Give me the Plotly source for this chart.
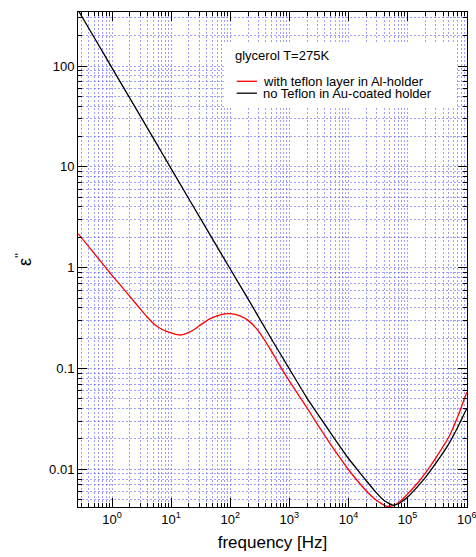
import plotly.graph_objects as go

# Dielectric loss spectra of glycerol at 275 K, two sample holders
freq_teflon = [0.266, 0.5, 1, 2, 3, 4, 5, 6, 7, 8, 10, 12, 15, 20, 25, 30, 40, 50, 70,
               100, 150, 200, 300, 500, 700, 1000, 2000, 3000, 5000, 7000, 1e4, 1.5e4,
               2e4, 3e4, 4.5e4, 6e4, 8e4, 1e5, 1.5e5, 2e5, 3e5, 5e5, 7e5, 1e6]
eps_teflon = [2.18, 1.385, 0.84, 0.52, 0.39, 0.32, 0.28, 0.258, 0.245, 0.236, 0.225,
              0.218, 0.215, 0.228, 0.245, 0.265, 0.298, 0.32, 0.343, 0.35, 0.33, 0.30,
              0.235, 0.148, 0.105, 0.075, 0.0405, 0.0278, 0.0176, 0.0133, 0.0099,
              0.0074, 0.0061, 0.0049, 0.00428, 0.0044, 0.0050, 0.0057, 0.0074, 0.0092,
              0.013, 0.021, 0.033, 0.058]

freq_gold = [0.266, 0.5, 1, 2, 5, 10, 20, 50, 100, 200, 500, 1000, 2000, 3000, 5000,
             7000, 1e4, 1.5e4, 2e4, 3e4, 4e4, 5.6e4, 7e4, 1e5, 1.5e5, 2e5, 3e5, 5e5,
             7e5, 1e6]
eps_gold = [360, 192, 96, 48, 19.3, 9.6, 4.8, 1.93, 0.97, 0.49, 0.195, 0.099, 0.0505,
            0.0355, 0.0228, 0.0172, 0.0128, 0.0095, 0.0077, 0.0058, 0.0049, 0.00442,
            0.00455, 0.0053, 0.0068, 0.0083, 0.0115, 0.018, 0.026, 0.040]

series_names = ["with teflon layer in Al-holder", "no Teflon in Au-coated holder"]
series_colors = ["#ff0000", "#000000"]
legend_title = "glycerol T=275K"

x_tick_vals = [1, 10, 100, 1e3, 1e4, 1e5, 1e6]
x_tick_text = ["10<sup>%d</sup>" % k for k in range(7)]
y_tick_vals = [0.01, 0.1, 1, 10, 100]
y_tick_text = ["0.01", "0.1", "1", "10", "100"]

x_minor_vals = [d * 10.0 ** e for e in range(-1, 6) for d in range(2, 10)]
y_minor_vals = [d * 10.0 ** e for e in range(-3, 3) for d in range(2, 10)]

FONT = "Liberation Sans, Arial, Helvetica, sans-serif"
GRID = "rgba(80,80,255,0.55)"
GRID_DASH = "2px,2px"

fig = go.Figure()
fig.add_trace(go.Scatter(x=freq_teflon, y=eps_teflon, mode="lines",
                         line=dict(color=series_colors[0], width=1.3, shape="spline", smoothing=0.5),
                         name=series_names[0], showlegend=False))
fig.add_trace(go.Scatter(x=freq_gold, y=eps_gold, mode="lines",
                         line=dict(color=series_colors[1], width=1.3, shape="spline", smoothing=0.5),
                         name=series_names[1], showlegend=False))

axis_common = dict(
    type="log", showline=True, linecolor="black", linewidth=1, mirror="ticks",
    ticks="inside", ticklen=9, tickcolor="black", tickwidth=1,
    showgrid=True, gridcolor=GRID, griddash=GRID_DASH, gridwidth=1,
    zeroline=False, tickfont=dict(family=FONT, size=13, color="black"),
    ticklabeloverflow="allow", automargin=False,
)

fig.update_xaxes(
    **axis_common, range=[-0.575, 6.004],
    tickmode="array", tickvals=x_tick_vals, ticktext=x_tick_text,
    minor=dict(tickmode="array", tickvals=x_minor_vals, ticks="inside", ticklen=4,
               tickcolor="black", showgrid=True, gridcolor=GRID, griddash=GRID_DASH),
    title=dict(text="frequency [Hz]", font=dict(family=FONT, size=17, color="black"), standoff=10),
)
fig.update_yaxes(
    **axis_common, range=[-2.374, 2.536],
    tickmode="array", tickvals=y_tick_vals, ticktext=y_tick_text,
    minor=dict(tickmode="array", tickvals=y_minor_vals, ticks="inside", ticklen=4,
               tickcolor="black", showgrid=True, gridcolor=GRID, griddash=GRID_DASH),
    title=dict(text="ε<sup>''</sup>", font=dict(family=FONT, size=18, color="black"), standoff=12),
)

# legend box drawn in paper coordinates
fig.add_shape(type="rect", xref="paper", yref="paper", x0=0.375, x1=0.974, y0=0.808, y1=0.939,
              fillcolor="white", line=dict(width=0), layer="above")
entry_y = [0.860, 0.836]
for yy, name, col in zip(entry_y, series_names, series_colors):
    fig.add_shape(type="line", xref="paper", yref="paper", x0=0.408, x1=0.460, y0=yy, y1=yy,
                  line=dict(color=col, width=1.3), layer="above")
    fig.add_annotation(x=0.474, y=yy, xref="paper", yref="paper", text=name, showarrow=False,
                       xanchor="left", yanchor="middle", borderpad=0,
                       font=dict(family=FONT, size=13, color="black"))
fig.add_annotation(x=0.400, y=0.913, xref="paper", yref="paper", text=legend_title, showarrow=False,
                   xanchor="left", yanchor="middle", borderpad=0,
                   font=dict(family=FONT, size=13, color="black"))

fig.update_layout(
    width=476, height=557, margin=dict(l=78, r=9, t=12, b=50),
    paper_bgcolor="white", plot_bgcolor="white", showlegend=False,
    font=dict(family=FONT, color="black"),
)

fig.write_html("out.html")
